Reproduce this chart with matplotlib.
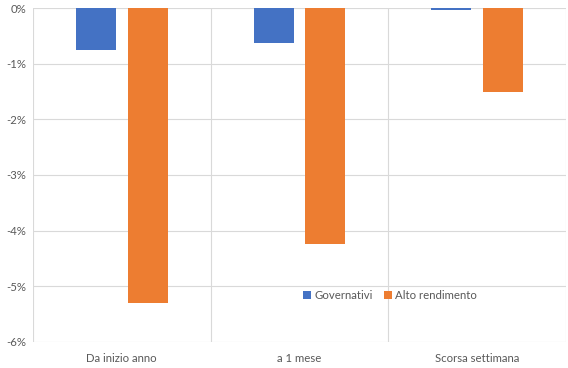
import matplotlib.pyplot as plt
import numpy as np
from matplotlib.ticker import FuncFormatter, MultipleLocator

categories = ["Da inizio anno", "a 1 mese", "Scorsa settimana"]
governativi = [-0.75, -0.62, -0.04]
alto_rendimento = [-5.30, -4.24, -1.50]

plt.rcParams['font.family'] = ['Lato', 'DejaVu Sans']

fig = plt.figure(figsize=(5.68, 3.68), dpi=100)
ax = fig.add_axes([0.058, 0.071, 0.9385, 0.907])

x = np.arange(len(categories))
w = 0.225
off = 0.145
ax.bar(x - off, governativi, w, color="#4472C4", label="Governativi", zorder=3)
ax.bar(x + off, alto_rendimento, w, color="#ED7D31", label="Alto rendimento", zorder=3)

ax.set_xlim(-0.5, 2.5)
ax.set_ylim(-6, 0)
ax.yaxis.set_major_locator(MultipleLocator(1))
ax.yaxis.set_major_formatter(FuncFormatter(lambda v, p: f"{int(round(v))}%"))

# gridlines: horizontal at each percent, vertical at category boundaries
for yv in range(-6, 1):
    ax.axhline(yv, color="#d9d9d9", lw=0.8, zorder=1)
for xv in [-0.5, 0.5, 1.5, 2.5]:
    ax.axvline(xv, color="#d9d9d9", lw=0.8, zorder=1)

for s in ax.spines.values():
    s.set_visible(False)

ax.set_xticks(x)
ax.set_xticklabels(categories)
ax.tick_params(axis="both", length=0, labelsize=8.2, colors="#595959")
ax.tick_params(axis="x", pad=8)
ax.tick_params(axis="y", pad=5)

leg = ax.legend(loc="center", bbox_to_anchor=(0.67, 0.14), ncol=2, frameon=False,
                fontsize=8.2, handlelength=0.7, handleheight=0.7, handletextpad=0.3,
                columnspacing=1.0)
for t in leg.get_texts():
    t.set_color("#595959")

fig.savefig("out.png", dpi=100)
